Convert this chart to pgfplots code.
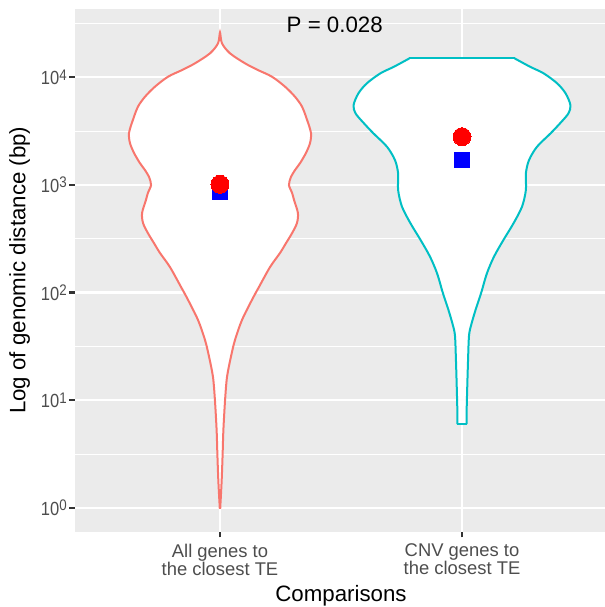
\documentclass[border=0pt]{standalone}
\usepackage{fontspec}
\setmainfont{Liberation Sans}
\usepackage{graphicx}
\usepackage{pgfplots}
\pgfplotsset{compat=1.18}
\definecolor{panelbg}{HTML}{EBEBEB}
\definecolor{gthirty}{HTML}{4D4D4D}
\definecolor{gtwenty}{HTML}{333333}
\definecolor{vred}{HTML}{F8766D}
\definecolor{vcyan}{HTML}{00BFC4}
\newcommand{\tl}[1]{\scalebox{0.87}[1]{10\raisebox{3.4pt}{\fontsize{11.5}{12}\selectfont #1}}}
\begin{document}
\begin{tikzpicture}
\begin{axis}[
  scale only axis, width=399.3pt, height=392.25pt,
  xmin=0.4, xmax=2.6, ymin=-0.221, ymax=4.637,
  axis background/.style={fill=panelbg},
  axis line style={draw=none},
  tick pos=left, tick align=outside,
  major tick length=4.3pt, minor tick length=0pt,
  tick style={gtwenty, line width=1.8pt},
  xtick={1,2},
  xticklabels={{All genes to\\the closest TE},{CNV genes to\\the closest TE}},
  ytick={0,1,2,3,4},
  yticklabels={\tl{0},\tl{1},\tl{2},\tl{3},\tl{4}},
  minor ytick={0.5,1.5,2.5,3.5,4.5},
  xmajorgrids, ymajorgrids, yminorgrids,
  major grid style={white, line width=1.65pt},
  minor grid style={white, line width=0.825pt},
  xticklabel style={align=center, font=\fontsize{13.8}{13.7}\selectfont, text=gthirty, inner sep=0pt, yshift=-4.5pt},
  yticklabel style={font=\fontsize{14.25}{16}\selectfont, text=gthirty, inner sep=0pt, xshift=-1.5pt},
  xlabel={Comparisons},
  ylabel={Log of genomic distance (bp)},
  xlabel style={at={(axis description cs:0.5,-0.1335)}, anchor=base, font=\fontsize{16.7}{20}\selectfont, inner sep=0pt},
  ylabel style={at={(axis description cs:-0.0927,0.5)}, anchor=base, font=\fontsize{16.7}{20}\selectfont, inner sep=0pt},
]
% left violin: all genes to the closest TE (log10 bp)
\addplot[smooth, draw=vred, fill=white, line width=1.5pt] coordinates {
(1.001,0) (1.007,0.259) (1.011,0.510) (1.014,0.724) (1.021,1.003) (1.029,1.216)
(1.045,1.402) (1.062,1.560) (1.091,1.746) (1.132,1.932) (1.161,2.052) (1.207,2.238)
(1.248,2.368) (1.273,2.460) (1.298,2.553) (1.318,2.646) (1.322,2.739) (1.306,2.860)
(1.298,2.925) (1.285,2.999) (1.293,3.073) (1.310,3.138) (1.331,3.203) (1.355,3.296)
(1.372,3.389) (1.376,3.482) (1.360,3.603) (1.339,3.727) (1.310,3.819) (1.269,3.912)
(1.215,4.005) (1.157,4.067) (1.103,4.130) (1.041,4.223) (1.008,4.316) (1,4.416)
(0.992,4.316) (0.959,4.223) (0.897,4.130) (0.843,4.067) (0.785,4.005) (0.731,3.912)
(0.690,3.819) (0.661,3.727) (0.640,3.603) (0.624,3.482) (0.628,3.389) (0.645,3.296)
(0.669,3.203) (0.690,3.138) (0.707,3.073) (0.715,2.999) (0.702,2.925) (0.694,2.860)
(0.678,2.739) (0.682,2.646) (0.702,2.553) (0.727,2.460) (0.752,2.368) (0.793,2.238)
(0.839,2.052) (0.868,1.932) (0.909,1.746) (0.938,1.560) (0.955,1.402) (0.971,1.216)
(0.979,1.003) (0.986,0.724) (0.989,0.510) (0.993,0.259) (0.999,0)
} --cycle;
% right violin: fill
\addplot[draw=none, fill=white] coordinates {
(2.217,4.176) (2.281,4.098) (2.337,4.037) (2.393,3.944) (2.428,3.851) (2.448,3.742)
(2.440,3.665) (2.405,3.572) (2.366,3.479) (2.310,3.355) (2.277,3.231) (2.264,3.108)
(2.264,2.953) (2.248,2.798) (2.213,2.644) (2.171,2.488) (2.132,2.333) (2.103,2.179)
(2.079,1.996) (2.056,1.839) (2.035,1.683) (2.027,1.590) (2.025,1.374) (2.021,1.067)
(2.019,0.881) (2.019,0.779)
(1.981,0.779) (1.981,0.881) (1.979,1.067) (1.975,1.374) (1.973,1.590) (1.965,1.683)
(1.944,1.839) (1.921,1.996) (1.897,2.179) (1.868,2.333) (1.829,2.488) (1.787,2.644)
(1.752,2.798) (1.736,2.953) (1.736,3.108) (1.723,3.231) (1.690,3.355) (1.634,3.479)
(1.595,3.572) (1.560,3.665) (1.552,3.742) (1.572,3.851) (1.607,3.944) (1.663,4.037)
(1.719,4.098) (1.783,4.176)
} --cycle;
% right violin: outline
\addplot[smooth, draw=vcyan, line width=1.5pt] coordinates {
(2.217,4.176) (2.281,4.098) (2.337,4.037) (2.393,3.944) (2.428,3.851) (2.448,3.742)
(2.440,3.665) (2.405,3.572) (2.366,3.479) (2.310,3.355) (2.277,3.231) (2.264,3.108)
(2.264,2.953) (2.248,2.798) (2.213,2.644) (2.171,2.488) (2.132,2.333) (2.103,2.179)
(2.079,1.996) (2.056,1.839) (2.038,1.700) (2.029,1.600) (2.025,1.374) (2.021,1.067)
(2.019,0.881) (2.019,0.779)
};
\addplot[smooth, draw=vcyan, line width=1.5pt] coordinates {
(1.981,0.779) (1.981,0.881) (1.979,1.067) (1.975,1.374) (1.971,1.600) (1.962,1.700)
(1.944,1.839) (1.921,1.996) (1.897,2.179) (1.868,2.333) (1.829,2.488) (1.787,2.644)
(1.752,2.798) (1.736,2.953) (1.736,3.108) (1.723,3.231) (1.690,3.355) (1.634,3.479)
(1.595,3.572) (1.560,3.665) (1.552,3.742) (1.572,3.851) (1.607,3.944) (1.663,4.037)
(1.719,4.098) (1.783,4.176)
};
\addplot[draw=vcyan, line width=1.5pt, line join=round] coordinates {(1.783,4.176) (2.217,4.176)};
\addplot[draw=vcyan, line width=1.5pt, line join=round] coordinates {(1.981,0.779) (2.019,0.779)};
% medians (blue squares) and means (red circles)
\addplot[only marks, mark=square*, mark size=5.6pt, color=blue, mark options={fill=blue, draw=blue, line width=0pt}] coordinates {(1,2.932) (2,3.229)};
\addplot[only marks, mark=*, mark size=6.75pt, color=red, mark options={fill=red, draw=red, line width=0pt}] coordinates {(1,3.006) (2,3.448)};
\node[anchor=base, font=\fontsize{16.7}{20}\selectfont, inner sep=0pt] at (axis cs:1.474,4.418) {P = 0.028};
\end{axis}
\pgfresetboundingbox
\path[use as bounding box] (-56.1pt,-56.475pt) rectangle (396.9pt,398.775pt);
\end{tikzpicture}
\end{document}
